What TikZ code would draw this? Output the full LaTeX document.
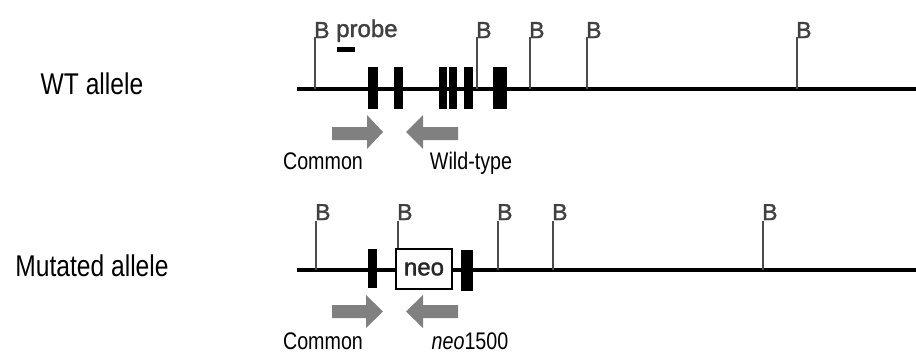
\documentclass[tikz,border=0pt]{standalone}
\usepackage{fontspec}
\setmainfont{Liberation Sans}
\newfontfamily\narrowsans{Liberation Sans}[FakeStretch=0.82]
\newfontfamily\artfont{Liberation Sans}[FakeBold=1.5]
\begin{document}
\begin{tikzpicture}[x=1pt,y=-1pt,
  dna/.style={line width=3.8pt,black},
  site/.style={line width=1.4pt,black!70},
  exon/.style={fill=black},
  primer/.style={fill=black!50,draw=none},
  blabel/.style={font=\artfont\fontsize{23}{23}\selectfont,text=black!75,inner sep=0pt,anchor=base west},
  lbl/.style={font=\narrowsans\fontsize{30}{30}\selectfont,inner sep=0pt},
  plbl/.style={font=\narrowsans\fontsize{24}{24}\selectfont,inner sep=0pt,anchor=base},
]
\useasboundingbox (0,0) rectangle (916,356);
% ---------- labels ----------
\node[lbl] (wtlab) at (92,84) {WT allele};
\node[lbl] (mutlab) at (92,266) {Mutated allele};

% ---------- WT allele ----------
\coordinate (wtL) at (297,89);
\coordinate (wtR) at (916,89);
\draw[dna] (wtL) -- (wtR);
\foreach \x/\n in {315/a,477/b,530/c,587/d,797/e}{
  \coordinate (wtt\n) at (\x,89);
  \node[blabel] (wtB\n) at (\x-1,38) {B};
  \draw[site] (wtt\n) -- (\x,37);
}
\node[font=\artfont\fontsize{24}{24}\selectfont,text=black!75,inner sep=0pt,anchor=base west] (probe) at (336,37) {probe};
\fill[black] (337,47) rectangle (355,52);
\fill[exon] (368,67) rectangle (378,109);
\fill[exon] (394,67) rectangle (403,109);
\fill[exon] (439,67) rectangle (447,109);
\fill[exon] (449,67) rectangle (457,109);
\fill[exon] (464,67) rectangle (473,109);
\fill[exon] (493,67) rectangle (507,109);
% primers
\fill[primer] (332,127) -- (367,127) -- (367,115) -- (383,132) -- (367,149) -- (367,140) -- (332,140) -- cycle;
\fill[primer] (458,127) -- (423,127) -- (423,115) -- (406,132) -- (423,149) -- (423,140) -- (458,140) -- cycle;
\node[plbl] (wtcommon) at (323,169) {Common};
\node[plbl] (wtwild) at (471,169) {Wild-type};

% ---------- Mutated allele ----------
\coordinate (mL) at (297,270);
\coordinate (mR) at (916,270);
\draw[dna] (mL) -- (mR);
\node[draw=black,line width=1.8pt,fill=white,minimum width=56pt,minimum height=40pt,inner sep=0pt,
      font=\artfont\fontsize{24}{24}\selectfont,text=black!85] (neo) at (424,269) {neo};
\foreach \x/\n in {316/a,498/c,553/d,763/e}{
  \coordinate (mt\n) at (\x,270);
  \node[blabel] (mB\n) at (\x-1,220) {B};
  \draw[site] (mt\n) -- (\x,221);
}
\node[blabel] (mBb) at (397,220) {B};
\draw[site] (neo.north -| 398,0) -- (398,221);
\fill[exon] (368,249) rectangle (377,288);
\fill[exon] (461,250) rectangle (473,291);
% primers
\fill[primer] (332,305) -- (366,305) -- (366,295) -- (383,311.5) -- (366,328) -- (366,318) -- (332,318) -- cycle;
\fill[primer] (458,305) -- (423,305) -- (423,295) -- (406,311.5) -- (423,328) -- (423,318) -- (458,318) -- cycle;
\node[plbl] (mcommon) at (323,349) {Common};
\node[plbl] (mneo) at (470,349) {\itshape neo\upshape 1500};
\end{tikzpicture}
\end{document}
